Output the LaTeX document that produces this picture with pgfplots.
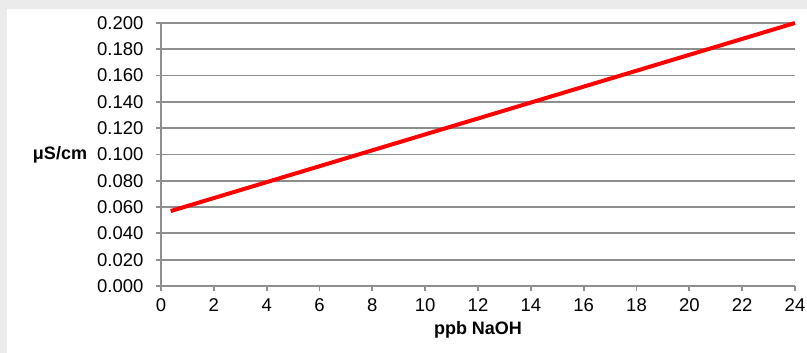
\documentclass[border=0pt]{standalone}
\usepackage{pgfplots}
\pgfplotsset{compat=1.18}
\usepackage{fontspec}
\setmainfont{Liberation Sans}
\definecolor{frame}{HTML}{EBEBEB}
\definecolor{gridc}{HTML}{8E8E8E}
\begin{document}
\begin{tikzpicture}
\useasboundingbox (0,0) rectangle (807bp,353bp);
\fill[frame] (0,0) rectangle (807bp,353bp);
\fill[white] (7bp,0) rectangle (807bp,344bp);
\begin{axis}[
  at={(161bp,67bp)}, anchor=south west,
  scale only axis, width=634bp, height=263bp,
  xmin=0, xmax=24, ymin=0, ymax=0.2,
  xtick={0,2,...,24}, ytick={0,0.02,...,0.2},
  axis x line*=bottom, axis y line*=left,
  axis line style={gridc, line width=1.8bp},
  tick style={gridc, line width=1.8bp},
  tick align=outside, major tick length=5bp,
  ymajorgrids, grid style={gridc, line width=1.8bp},
  font=\fontsize{18.5bp}{21bp}\selectfont,
  /pgf/number format/assume math mode=true,
  yticklabel style={/pgf/number format/.cd, fixed, fixed zerofill, precision=3, /tikz/.cd, xshift=-9bp},
  xticklabel style={yshift=-4bp},
  scaled y ticks=false,
  clip=false,
]
\addplot[red, line width=4bp, no marks] coordinates {(0.37,0.057) (24,0.200)};
\end{axis}
\node[font=\fontsize{18bp}{21bp}\selectfont\bfseries] at (60bp,198bp) {μS/cm};
\node[font=\fontsize{18bp}{21bp}\selectfont\bfseries] at (478bp,23bp) {ppb NaOH};
\end{tikzpicture}
\end{document}
